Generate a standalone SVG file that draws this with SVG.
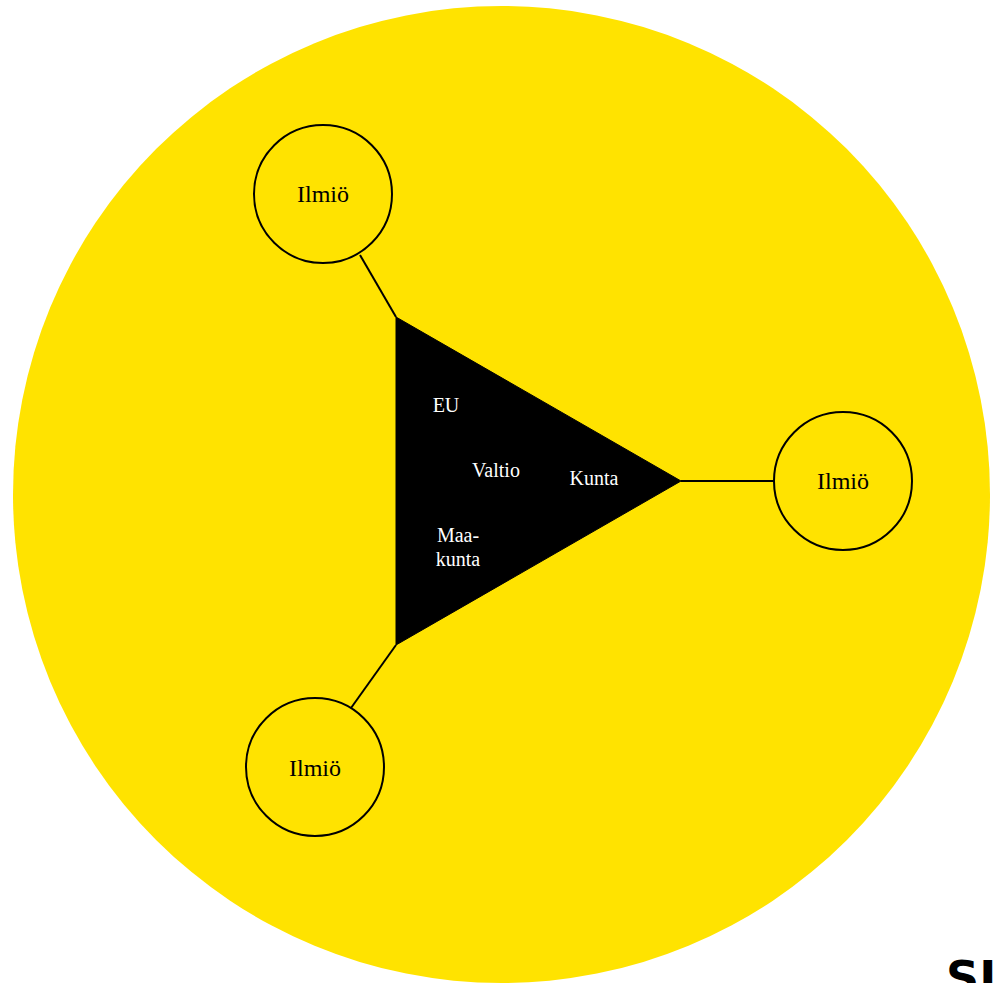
<svg xmlns="http://www.w3.org/2000/svg" width="996" height="983" viewBox="0 0 996 983">
<style>
.node{fill:#FFE300;stroke:#000;stroke-width:2}
.lbl{font-family:"Liberation Serif","DejaVu Serif",serif;font-size:24px;fill:#000;text-anchor:middle}
.wl{font-family:"Liberation Serif","DejaVu Serif",serif;font-size:20px;fill:#fff;text-anchor:middle}
.conn{stroke:#000;stroke-width:2;fill:none}
</style>
<rect width="996" height="983" fill="#fff"/>
<circle id="bg" cx="501.5" cy="494.5" r="488.5" fill="#FFE300"/>
<g id="connectors">
<line class="conn" x1="396" y1="317" x2="360" y2="255"/>
<line class="conn" x1="681" y1="481" x2="774" y2="481"/>
<line class="conn" x1="396" y1="645" x2="351" y2="708"/>
</g>
<g id="triangle">
<polygon points="396,317 681,481 396,645" fill="#000" stroke="#000" stroke-width="1"/>
<text class="wl" x="446" y="412">EU</text>
<text class="wl" x="496" y="477">Valtio</text>
<text class="wl" x="594" y="485">Kunta</text>
<text class="wl" x="458" y="542">Maa-</text>
<text class="wl" x="458" y="566">kunta</text>
</g>
<g id="ilmio1">
<circle class="node" cx="323" cy="194" r="69"/>
<text class="lbl" x="323" y="202">Ilmiö</text>
</g>
<g id="ilmio2">
<circle class="node" cx="843" cy="481" r="69"/>
<text class="lbl" x="843" y="489">Ilmiö</text>
</g>
<g id="ilmio3">
<circle class="node" cx="315" cy="767" r="69"/>
<text class="lbl" x="315" y="776">Ilmiö</text>
</g>
<text x="946" y="994" font-family="'DejaVu Sans',sans-serif" font-size="46" font-weight="bold" fill="#000">SI</text>
</svg>
